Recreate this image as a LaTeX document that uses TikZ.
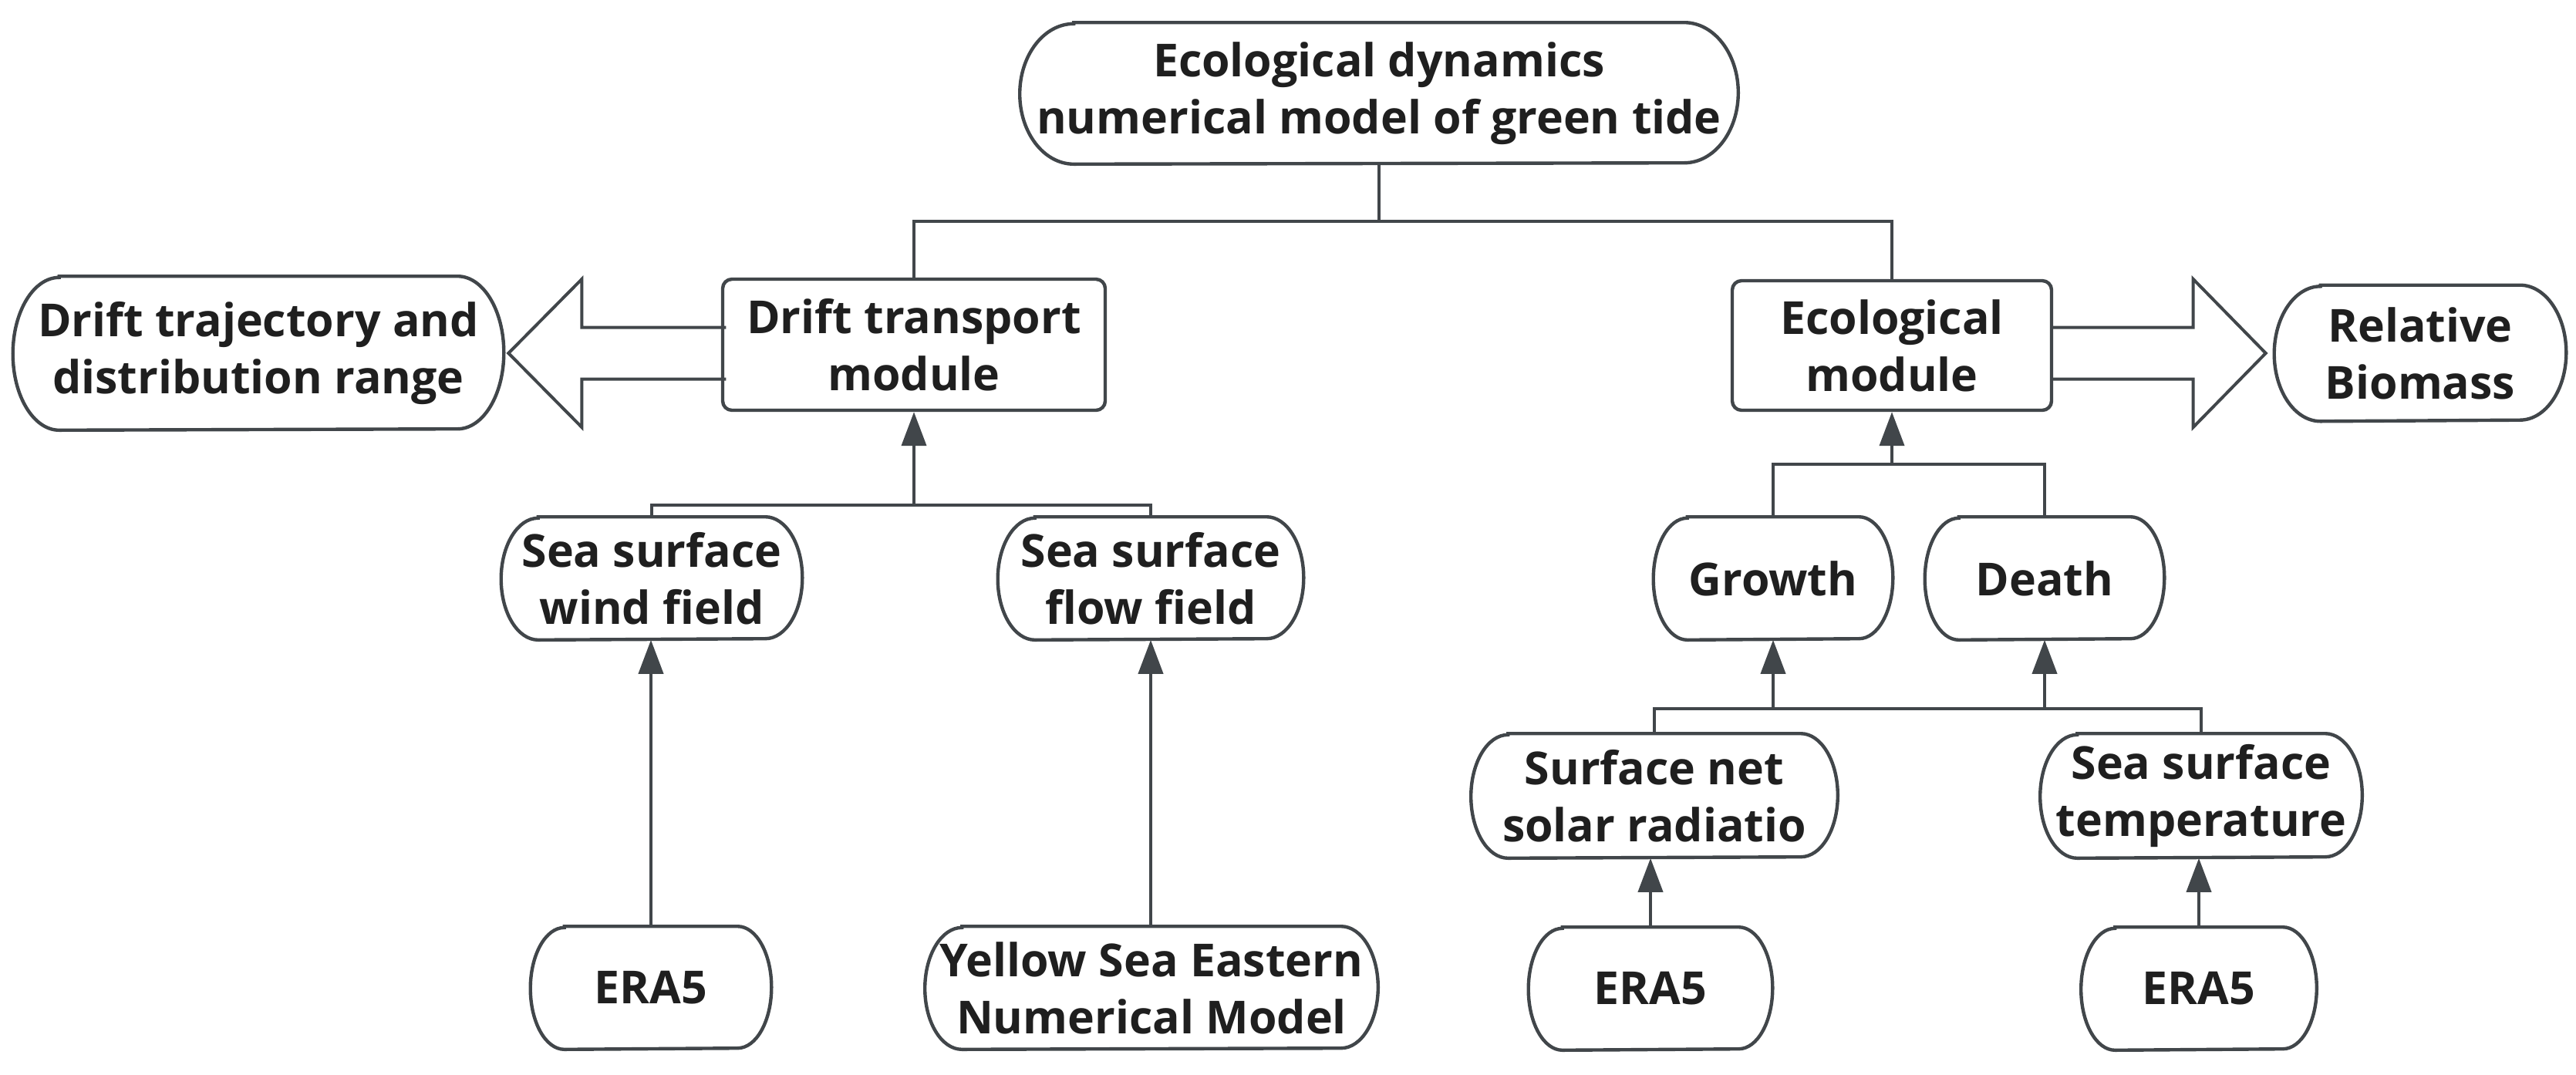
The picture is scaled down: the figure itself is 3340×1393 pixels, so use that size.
\documentclass[tikz,border=0pt]{standalone}
\usepackage{fontspec}
\setmainfont{Open Sans}
\usetikzlibrary{calc,arrows.meta}
\definecolor{bdc}{HTML}{41464A}
\definecolor{txc}{HTML}{1F1F1F}
\newcommand{\capsule}[3]{%
  \draw[bd] ($(#1.north west)+(#2,0)$) -- ($(#1.north east)+(-#2,0)$)
    arc[start angle=90,end angle=-90,x radius=#2,y radius=#3]
    -- ($(#1.south west)+(#2,0)$)
    arc[start angle=270,end angle=90,x radius=#2,y radius=#3] -- cycle;}
\begin{document}
\begin{tikzpicture}[x=0.25pt,y=-0.25pt,
  box/.style={draw=none, inner sep=0pt, align=center,
    font=\bfseries\fontsize{14.75pt}{18.5pt}\selectfont, text=txc},
  rbox/.style={box, draw=bdc, line width=1.1pt, rounded corners=3pt},
  bd/.style={draw=bdc, line width=1.1pt},
  conn/.style={draw=bdc, line width=1pt},
  arr/.style={conn, -{Triangle[length=11pt,width=8pt]}},
  hollow/.style={draw=bdc, line width=1pt, line join=miter}]
\useasboundingbox (0,0) rectangle (3340,1393);

% nodes
\node[box, minimum width=232.5pt, minimum height=45.5pt] (top) at (1788,121)
  {Ecological dynamics\\numerical model of green tide};
\capsule{top}{17.5pt}{22.75pt}

\node[box, minimum width=158.75pt, minimum height=49.5pt] (driftout) at (335,458)
  {Drift trajectory and\\distribution range};
\capsule{driftout}{15pt}{24.75pt}

\node[rbox, minimum width=124pt, minimum height=42.5pt] (drift) at (1185,447)
  {Drift transport\\module};

\node[rbox, minimum width=103.5pt, minimum height=42pt] (eco) at (2453,448)
  {Ecological\\module};

\node[box, minimum width=94.25pt, minimum height=43.75pt] (biomass) at (3138,458)
  {Relative\\Biomass};
\capsule{biomass}{15pt}{21.875pt}

\node[box, minimum width=97.25pt, minimum height=39.5pt] (wind) at (845,750)
  {Sea surface\\wind field};
\capsule{wind}{12pt}{19.75pt}

\node[box, minimum width=98.75pt, minimum height=39.5pt] (flow) at (1492,750)
  {Sea surface\\flow field};
\capsule{flow}{12pt}{19.75pt}

\node[box, minimum width=77.75pt, minimum height=39.5pt] (era5a) at (844,1281)
  {ERA5};
\capsule{era5a}{11pt}{19.75pt}

\node[box, minimum width=146.5pt, minimum height=39.5pt] (yellow) at (1493,1281)
  {Yellow Sea Eastern\\Numerical Model};
\capsule{yellow}{12pt}{19.75pt}

\node[box, minimum width=77.25pt, minimum height=39.5pt] (growth) at (2299,750)
  {Growth};
\capsule{growth}{11pt}{19.75pt}

\node[box, minimum width=77.25pt, minimum height=39.5pt] (death) at (2651,750)
  {Death};
\capsule{death}{11pt}{19.75pt}

\node[box, minimum width=118.5pt, minimum height=40pt] (solar) at (2145,1032)
  {Surface net\\solar radiatio};
\capsule{solar}{12pt}{20pt}

\node[box, minimum width=104pt, minimum height=40pt] (sst) at (2854,1032)
  {Sea surface\\temperature};
\capsule{sst}{12pt}{20pt}

\node[box, minimum width=78.75pt, minimum height=39.5pt] (era5b) at (2140,1282)
  {ERA5};
\capsule{era5b}{11pt}{19.75pt}

\node[box, minimum width=76pt, minimum height=39.5pt] (era5c) at (2851,1282)
  {ERA5};
\capsule{era5c}{11pt}{19.75pt}

% junctions
\coordinate (j1) at ($(top.south)+(0,74)$);
\coordinate (j2) at ($(drift.south)+(0,121)$);
\coordinate (j3) at ($(eco.south)+(0,68)$);
\coordinate (j4) at ($(growth.south)+(0,89)$);

% tree connectors
\draw[conn] (top.south) -- (j1);
\draw[conn] (drift.north) |- (j1) -| (eco.north);

\draw[arr] (j2) -- (drift.south);
\draw[conn] (wind.north) |- (j2) -| (flow.north);
\draw[arr] (era5a.north) -- (era5a.north |- wind.south);
\draw[arr] (yellow.north -| flow.south) -- (flow.south);

\draw[arr] (j3) -- (eco.south);
\draw[conn] (growth.north) |- (j3) -| (death.north);

\draw[conn] (solar.north) |- (j4) -| (sst.north);
\draw[arr] (j4) -- (growth.south);
\draw[arr] (j4 -| death.south) -- (death.south);
\draw[arr] (era5b.north) -- (era5b.north |- solar.south);
\draw[arr] (era5c.north) -- (era5c.north |- sst.south);

% hollow block arrows
\path (driftout.east) ++(6,0) coordinate (lt);
\draw[hollow] (lt) ++(282,-33.5) -- ++(-187,0) -- ++(0,-62.5) -- (lt)
  -- ++(95,96) -- ++(0,-62.5) -- ++(187,0);
\path (biomass.west) ++(-11,0) coordinate (rt);
\draw[hollow] (rt) ++(-279,-33.5) -- ++(185,0) -- ++(0,-62.5) -- (rt)
  -- ++(-94,96) -- ++(0,-62.5) -- ++(-185,0);
\end{tikzpicture}
\end{document}
